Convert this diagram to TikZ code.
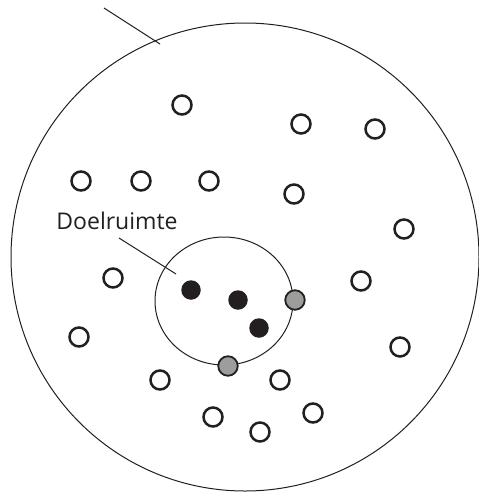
\documentclass[tikz,border=0pt]{standalone}
\usepackage{fontspec}
\setmainfont{Open Sans}
\usetikzlibrary{shapes.geometric}
\begin{document}
\begin{tikzpicture}[x=1pt,y=-1pt,
  ink/.style={draw=inkc},
  opendot/.style={circle,draw=inkc,line width=2.5pt,fill=white,minimum size=19pt,inner sep=0pt},
  fulldot/.style={circle,fill=inkc,minimum size=19.5pt,inner sep=0pt},
  graydot/.style={circle,draw=inkc,line width=1.8pt,fill=dotgray,minimum size=19.5pt,inner sep=0pt},
  lbl/.style={font=\fontsize{23}{26}\selectfont,text=inkc,inner sep=0pt}]
\definecolor{inkc}{HTML}{231F20}
\definecolor{dotgray}{HTML}{9D9D9C}
\useasboundingbox (0,0) rectangle (479,493);
% big circle
\node[ink,circle,line width=1pt,minimum size=468pt,inner sep=0pt] (big) at (245,257) {};
\coordinate (tl) at (104,8);
\coordinate (te) at (160,44);
\draw[inkc,line width=1pt] (tl) -- (te);
% target region
\node[ink,ellipse,line width=1pt,minimum width=138pt,minimum height=128pt,inner sep=0pt] (doel) at (224,301) {};
\node[lbl] (label) at (117,221) {Doelruimte};
\coordinate (l1) at (119,238);
\coordinate (l2) at (176,274);
\draw[inkc,line width=1pt] (l1) -- (l2);
% open dots
\foreach \n/\x/\y in {o1/182/105,o2/301/124,o3/375/129,o4/81/181,o5/141/181,o6/209/181,o7/294/194,o8/404/229,o9/113/278,o10/361/281,o11/79/337,o12/400/347,o13/160/380,o14/280/380,o15/213/417,o16/260/432,o17/313/413}
  \node[opendot] (\n) at (\x,\y) {};
% filled dots
\node[fulldot] (f1) at (191,290) {};
\node[fulldot] (f2) at (238,300) {};
\node[fulldot] (f3) at (259,328) {};
% gray dots
\node[graydot] (g1) at (295,300) {};
\node[graydot] (g2) at (228,366) {};
\end{tikzpicture}
\end{document}
